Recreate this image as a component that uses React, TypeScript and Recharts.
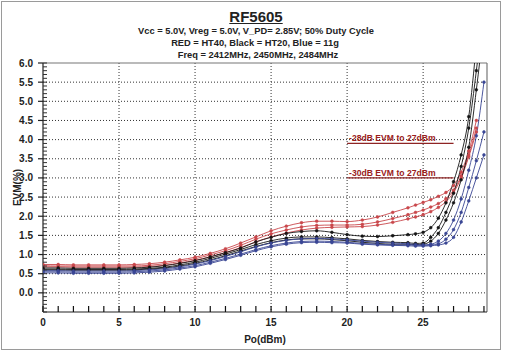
import React from 'react';
import { LineChart, Line, XAxis, YAxis, CartesianGrid, ReferenceLine, Label } from 'recharts';

// Output power (dBm) sample points
const po = [0, 1, 2, 3, 4, 5, 6, 7, 8, 9, 10, 11, 12, 13, 14, 15, 16, 17, 18, 19, 20, 21, 22, 23, 24,
  24.5, 25, 25.5, 26, 26.5, 27, 27.5, 28, 28.5, 29];

// RED = HT40 (2412 / 2450 / 2484 MHz)
const ht40A = [0.74, 0.74, 0.73, 0.73, 0.73, 0.73, 0.74, 0.76, 0.80, 0.86, 0.93, 1.03, 1.15,
  1.30, 1.46, 1.62, 1.74, 1.83, 1.87, 1.87, 1.86, 1.90, 1.98, 2.10, 2.22,
  2.29, 2.36, 2.43, 2.52, 2.62, 2.80, 3.15, 3.70, 4.50, null];
const ht40B = [0.71, 0.70, 0.70, 0.70, 0.70, 0.70, 0.70, 0.72, 0.76, 0.82, 0.89, 0.99, 1.10,
  1.24, 1.40, 1.54, 1.64, 1.72, 1.76, 1.77, 1.77, 1.79, 1.85, 1.94, 2.04,
  2.10, 2.16, 2.24, 2.33, 2.46, 2.68, 3.05, 3.60, 4.30, null];
const ht40C = [0.68, 0.68, 0.67, 0.67, 0.67, 0.67, 0.67, 0.69, 0.72, 0.78, 0.85, 0.94, 1.05,
  1.18, 1.33, 1.46, 1.56, 1.64, 1.69, 1.71, 1.72, 1.73, 1.77, 1.84, 1.93,
  1.98, 2.04, 2.12, 2.23, 2.38, 2.62, 3.00, 3.55, 4.20, null];

// Black = HT20
const ht20A = [0.65, 0.65, 0.64, 0.64, 0.64, 0.64, 0.65, 0.67, 0.71, 0.77, 0.84, 0.94, 1.05,
  1.17, 1.33, 1.45, 1.55, 1.60, 1.62, 1.58, 1.52, 1.48, 1.47, 1.49, 1.52,
  1.54, 1.58, 1.70, 1.95, 2.35, 2.90, 3.60, 4.60, 6.50, null];
const ht20B = [0.62, 0.62, 0.61, 0.61, 0.61, 0.61, 0.62, 0.64, 0.67, 0.73, 0.80, 0.90, 1.01,
  1.13, 1.26, 1.36, 1.43, 1.46, 1.46, 1.44, 1.41, 1.37, 1.34, 1.32, 1.31,
  1.29, 1.30, 1.45, 1.70, 2.10, 2.60, 3.30, 4.30, 5.80, 7.50];
const ht20C = [0.60, 0.60, 0.59, 0.59, 0.59, 0.59, 0.60, 0.62, 0.65, 0.70, 0.77, 0.86, 0.97,
  1.09, 1.21, 1.31, 1.38, 1.41, 1.41, 1.39, 1.36, 1.32, 1.29, 1.27, 1.27,
  1.26, 1.27, 1.35, 1.55, 1.90, 2.35, 2.95, 3.80, 5.30, 7.00];

// Blue = 11g
const g11A = [0.58, 0.58, 0.57, 0.57, 0.57, 0.57, 0.58, 0.60, 0.63, 0.68, 0.75, 0.84, 0.95,
  1.07, 1.20, 1.30, 1.37, 1.41, 1.42, 1.41, 1.38, 1.35, 1.32, 1.30, 1.28,
  1.26, 1.25, 1.27, 1.35, 1.55, 1.90, 2.45, 3.20, 4.10, 5.50];
const g11B = [0.55, 0.55, 0.54, 0.54, 0.54, 0.54, 0.55, 0.57, 0.60, 0.65, 0.71, 0.80, 0.90,
  1.01, 1.13, 1.23, 1.30, 1.34, 1.35, 1.34, 1.32, 1.29, 1.27, 1.25, 1.25,
  1.24, 1.24, 1.25, 1.28, 1.40, 1.65, 2.10, 2.75, 3.45, 4.20];
const g11C = [0.52, 0.52, 0.51, 0.51, 0.51, 0.51, 0.52, 0.54, 0.57, 0.62, 0.68, 0.77, 0.87,
  0.98, 1.10, 1.20, 1.27, 1.31, 1.32, 1.31, 1.30, 1.27, 1.25, 1.24, 1.23,
  1.22, 1.22, 1.23, 1.25, 1.30, 1.45, 1.85, 2.40, 3.00, 3.60];

const xGrid = [5, 10, 15, 20, 25];
const yGrid = [0, 0.5, 1, 1.5, 2, 2.5, 3, 3.5, 4, 4.5, 5, 5.5];
// tick marks: every 1 dBm (labelled every 5), every 0.1 % (labelled every 0.5)
const xTicks = Array.from({ length: 30 }, (_, i) => i);
const yTicks = Array.from({ length: 66 }, (_, i) => (i - 5) / 10);

// spec lines: -28dB / -30dB EVM up to 27dBm
const specLines = [
  { label: '-28dB EVM to 27dBm', evm: 3.9 },
  { label: '-30dB EVM to 27dBm', evm: 3.0 },
];

const series = [
  { key: 'ht40A', values: ht40A, color: '#c9474b' },
  { key: 'ht40B', values: ht40B, color: '#c9474b' },
  { key: 'ht40C', values: ht40C, color: '#c9474b' },
  { key: 'ht20A', values: ht20A, color: '#151515' },
  { key: 'ht20B', values: ht20B, color: '#151515' },
  { key: 'ht20C', values: ht20C, color: '#151515' },
  { key: 'g11A', values: g11A, color: '#3a4694' },
  { key: 'g11B', values: g11B, color: '#3a4694' },
  { key: 'g11C', values: g11C, color: '#3a4694' },
];

const rows = po.map((p, i) => {
  const row: Record<string, number | null> = { po: p };
  series.forEach((s) => { row[s.key] = s.values[i]; });
  return row;
});

const FONT = '"Liberation Sans", Arial, sans-serif';
const tickStyle = { fill: '#222', fontSize: 10, fontWeight: 'bold' as const, fontFamily: FONT };

const isHalf = (v: number) => v >= 0 && Math.abs(v * 2 - Math.round(v * 2)) < 1e-6;

// x tick: text sits 6px below the axis line; inward mark at every dBm
const XTick = (props: any) => {
  const { x, y, payload } = props;
  const v = payload.value as number;
  const axisY = y - 6;
  return (
    <g>
      <rect x={x - 0.6} y={axisY - 6} width={1.2} height={6} fill="#111" />
      {v % 5 === 0 && (
        <text x={x} y={y} dy="0.75em" textAnchor="middle" {...tickStyle}>{v}</text>
      )}
    </g>
  );
};

// y tick: text 9px left of the axis; inward mark every 0.1, outward mark + label every 0.5
const YTick = (props: any) => {
  const { x, y, payload } = props;
  const v = payload.value as number;
  const axisX = x + 9;
  const major = isHalf(v);
  return (
    <g>
      <rect x={axisX} y={y - 0.5} width={4} height={1} fill="#333" />
      {major && <rect x={axisX - 5} y={y - 0.6} width={5} height={1.2} fill="#222" />}
      {major && (
        <text x={x - 1} y={y} dy={3.5} textAnchor="end" {...tickStyle}>{v.toFixed(1)}</text>
      )}
    </g>
  );
};

const App: React.FC = () => {
  return (
    <div style={{ position: 'absolute', left: 0, top: 0, width: 508, height: 352, background: '#fff', fontFamily: FONT, color: '#222' }}>
      <div style={{ position: 'absolute', left: 1, top: 1, width: 498, height: 347, border: '1px solid #9a9a9a' }} />
      <div style={{ position: 'absolute', left: 0, width: 512, top: 9, height: 15, lineHeight: '15px', textAlign: 'center', fontSize: 15, fontWeight: 'bold', textDecoration: 'underline' }}>
        RF5605
      </div>
      <div style={{ position: 'absolute', left: 0, width: 512, top: 25, height: 12, lineHeight: '12px', textAlign: 'center', fontSize: 9.3, fontWeight: 'bold' }}>
        Vcc = 5.0V, Vreg = 5.0V, V_PD= 2.85V; 50% Duty Cycle
      </div>
      <div style={{ position: 'absolute', left: 0, width: 510, top: 37, height: 12, lineHeight: '12px', textAlign: 'center', fontSize: 9.3, fontWeight: 'bold' }}>
        RED = HT40, Black = HT20, Blue = 11g
      </div>
      <div style={{ position: 'absolute', left: 0, width: 516, top: 49, height: 12, lineHeight: '12px', textAlign: 'center', fontSize: 9.3, fontWeight: 'bold' }}>
        Freq = 2412MHz, 2450MHz, 2484MHz
      </div>
      <LineChart
        width={508}
        height={352}
        data={rows}
        margin={{ top: 63, right: 21, left: 0, bottom: 0 }}
        style={{ position: 'absolute', left: 0, top: 0 }}
      >
        <CartesianGrid
          stroke="#333"
          strokeDasharray="1 2"
          horizontalValues={yGrid}
          verticalValues={xGrid}
        />
        <XAxis
          dataKey="po"
          type="number"
          domain={[0, 29.2]}
          ticks={xTicks}
          interval={0}
          height={40}
          tickSize={0}
          tickMargin={6}
          tickLine={false}
          allowDataOverflow
          axisLine={{ stroke: '#222', strokeWidth: 1.2 }}
          tick={<XTick />}
        >
          <Label value="Po(dBm)" position="insideBottom" offset={9} fill="#222" fontSize={10} fontWeight="bold" fontFamily={FONT} />
        </XAxis>
        <YAxis
          type="number"
          domain={[-0.5, 6]}
          ticks={yTicks}
          interval={0}
          width={43}
          tickSize={0}
          tickMargin={9}
          tickLine={false}
          allowDataOverflow
          axisLine={{ stroke: '#222', strokeWidth: 1.2 }}
          tick={<YTick />}
        >
          <Label value="EVM(%)" angle={-90} position="center" dx={-4} fill="#222" fontSize={10} fontWeight="bold" fontFamily={FONT} />
        </YAxis>
        <ReferenceLine y={6} stroke="#777" strokeWidth={1.2} />
        <ReferenceLine x={29.2} stroke="#777" strokeWidth={1.2} />
        {specLines.map((s) => (
          <ReferenceLine
            key={s.label}
            segment={[{ x: 20, y: s.evm }, { x: 27, y: s.evm }]}
            stroke="#8e2424"
            strokeWidth={1.3}
            label={{
              value: s.label,
              position: 'insideBottomLeft',
              offset: 2,
              fill: '#9a2020',
              fontSize: 8.6,
              fontWeight: 'bold',
              fontFamily: FONT,
            }}
          />
        ))}
        {series.map((s) => (
          <Line
            key={s.key}
            dataKey={s.key}
            type="monotone"
            stroke={s.color}
            strokeWidth={1}
            strokeOpacity={0.9}
            dot={{ r: 1.4, fill: s.color, stroke: s.color, strokeWidth: 0.6 }}
            connectNulls={false}
            isAnimationActive={false}
          />
        ))}
      </LineChart>
    </div>
  );
};

export default App;
